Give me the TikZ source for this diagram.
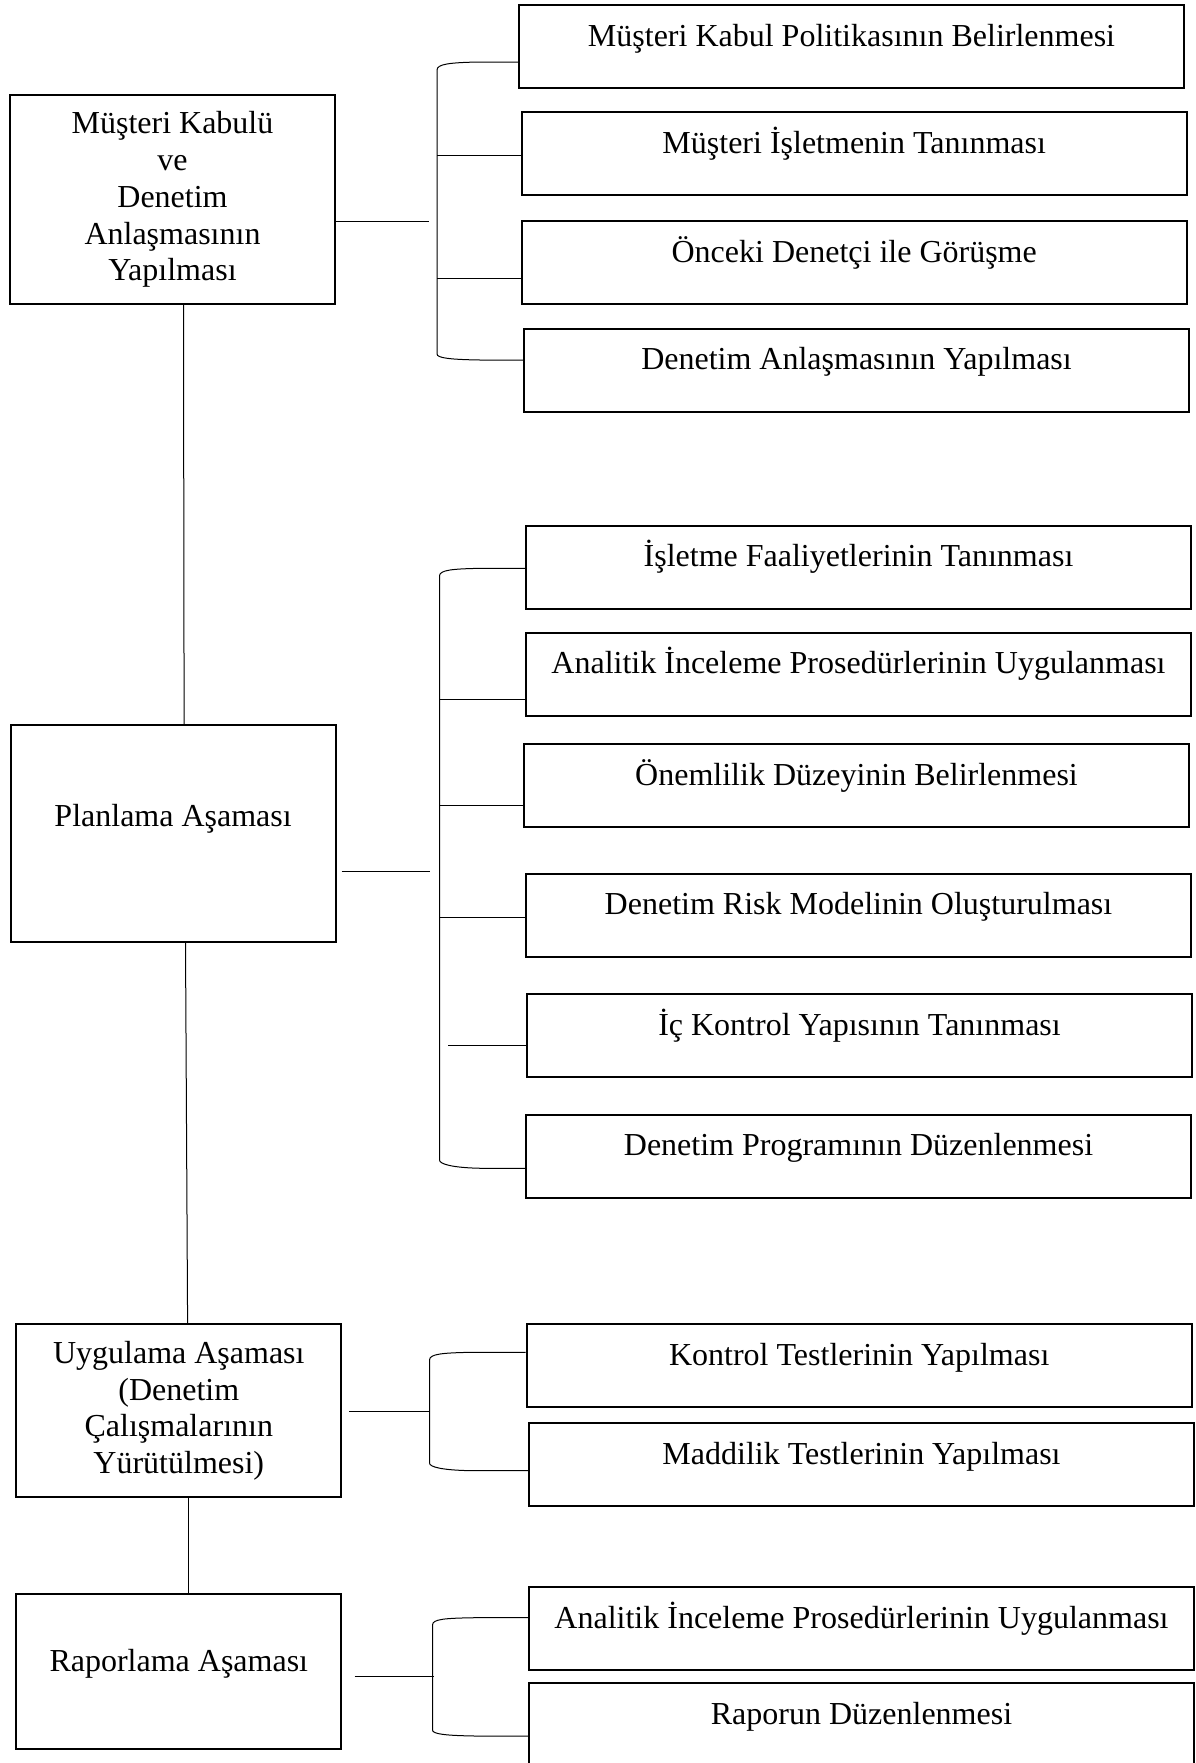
\documentclass[tikz,border=0pt]{standalone}
\usepackage{fontspec}
\setmainfont{Liberation Serif}
\usetikzlibrary{calc}

\tikzset{
  phase/.style={draw, line width=1pt, minimum width=162.5pt, inner sep=0pt, align=center, anchor=north west},
  task/.style={draw, line width=1pt, minimum width=332.5pt, inner sep=0pt, text height=20.5pt, text depth=21pt, anchor=north west},
  link/.style={line width=0.5pt}
}

\begin{document}
\begin{tikzpicture}[x=0.5pt, y=-0.5pt, font=\fontsize{16}{18.4}\selectfont]
  \useasboundingbox (0,0) rectangle (1195,1763);

  % Phases (left column)
  \node[phase, minimum height=104.5pt] (kabul) at (9,94)
    {Müşteri Kabulü\\ve\\Denetim\\Anlaşmasının\\Yapılması};
  \node[phase, text height=50.5pt, text depth=57.9pt] (plan) at (9.6,724) {Planlama Aşaması};
  \node[phase, minimum height=86.5pt] (uyg) at (15.3,1323.3)
    {Uygulama Aşaması\\(Denetim\\Çalışmalarının\\Yürütülmesi)};
  \node[phase, text height=38.9pt, text depth=38.5pt] (rapor) at (15.3,1593) {Raporlama Aşaması};

  % Phase links
  \draw[link] ([xshift=5.5pt]kabul.south) -- ([xshift=5.5pt]plan.north);
  \draw[link] ([xshift=6.2pt]plan.south) -- ([xshift=4.4pt]uyg.north);
  \draw[link] ([xshift=5pt]uyg.south) -- ([xshift=5pt]rapor.north);

  % Steps of the first phase
  \node[task] (k1) at (518,4) {Müşteri Kabul Politikasının Belirlenmesi};
  \node[task] (k2) at (520.7,111) {Müşteri İşletmenin Tanınması};
  \node[task] (k3) at (520.7,220) {Önceki Denetçi ile Görüşme};
  \node[task] (k4) at (523,327.7) {Denetim Anlaşmasının Yapılması};

  % Steps of the planning phase
  \node[task] (p1) at (525,524.6) {İşletme Faaliyetlerinin Tanınması};
  \node[task] (p2) at (525,631.7) {Analitik İnceleme Prosedürlerinin Uygulanması};
  \node[task] (p3) at (523,743) {Önemlilik Düzeyinin Belirlenmesi};
  \node[task] (p4) at (525,872.7) {Denetim Risk Modelinin Oluşturulması};
  \node[task] (p5) at (526,993) {İç Kontrol Yapısının Tanınması};
  \node[task] (p6) at (525,1113.8) {Denetim Programının Düzenlenmesi};

  % Steps of the field work
  \node[task] (u1) at (525.7,1323.3) {Kontrol Testlerinin Yapılması};
  \node[task] (u2) at (528,1422.3) {Maddilik Testlerinin Yapılması};

  % Steps of reporting
  \node[task] (r1) at (528,1586) {Analitik İnceleme Prosedürlerinin Uygulanması};
  \node[task] (r2) at (528,1682.3) {Raporun Düzenlenmesi};

  % Bracket 1
  \coordinate (in1) at (429,221);
  \draw[link] (kabul.east |- in1) -- (in1);
  \draw[link] (k1.west |- 0,62) -- (480,62) .. controls (450,62.5) and (437,64) .. (437,70)
    -- (437,354) .. controls (437,358) and (450,359.5) .. (480,360) -- (k4.west |- 0,360);
  \foreach \y/\t in {155.7/k2, 278.7/k3}
    \draw[link] (437,\y) -- (\t.west |- 0,\y);

  % Bracket 2
  \coordinate (in2) at (429.5,871.5);
  \draw[link] ($(plan.east |- in2)+(5,0)$) -- (in2);
  \draw[link] (p1.west |- 0,568.3) -- (482,568.3) .. controls (452,568.8) and (439.5,570) .. (439.5,576)
    -- (439.5,1160) .. controls (439.5,1164) and (452,1167.8) .. (482,1168.3) -- (p6.west |- 0,1168.3);
  \foreach \y/\t in {699/p2, 805.8/p3, 917.4/p4}
    \draw[link] (439.5,\y) -- (\t.west |- 0,\y);
  \draw[link] (448,1045.5) -- (p5.west |- 0,1045.5);

  % Bracket 3
  \coordinate (in3) at (428.6,1411.3);
  \draw[link] ($(uyg.east |- in3)+(7,0)$) -- (in3);
  \draw[link] (u1.west |- 0,1352.3) -- (472,1352.3) .. controls (442,1352.8) and (429.5,1354) .. (429.5,1360)
    -- (429.5,1463) .. controls (429.5,1467) and (442,1470.2) .. (472,1470.7) -- (u2.west |- 0,1470.7);

  % Bracket 4
  \coordinate (in4) at (434.4,1676.7);
  \draw[link] ($(rapor.east |- in4)+(12.4,0)$) -- (in4);
  \draw[link] (r1.west |- 0,1617.7) -- (475,1617.7) .. controls (445,1618.2) and (432.5,1619) .. (432.5,1625)
    -- (432.5,1730) .. controls (432.5,1734) and (445,1735.5) .. (475,1736) -- (r2.west |- 0,1736);
\end{tikzpicture}
\end{document}
